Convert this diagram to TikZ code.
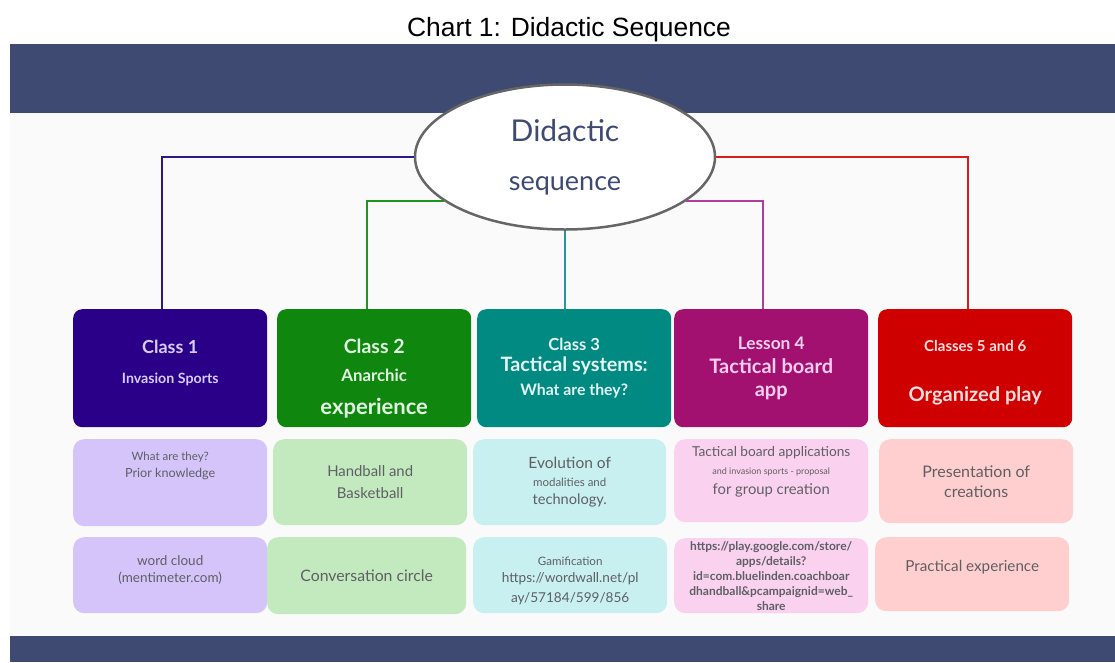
\documentclass[tikz,border=0pt]{standalone}
\usepackage{fontspec}
\setmainfont{Lato}
\newfontfamily\titlefont{Liberation Sans}
\usetikzlibrary{shapes, positioning}
\definecolor{band}{RGB}{62,74,113}
\definecolor{classone}{RGB}{42,0,136}
\definecolor{classtwo}{RGB}{15,135,15}
\definecolor{classthree}{RGB}{0,138,130}
\definecolor{classfour}{RGB}{163,17,112}
\definecolor{classfive}{RGB}{206,0,0}
\definecolor{headone}{RGB}{215,205,250}
\definecolor{headtwo}{RGB}{225,245,225}
\definecolor{headthree}{RGB}{228,246,246}
\definecolor{headfour}{RGB}{248,205,238}
\definecolor{headfive}{RGB}{255,222,222}
\definecolor{noteone}{RGB}{212,196,250}
\definecolor{notetwo}{RGB}{194,234,190}
\definecolor{notethree}{RGB}{200,240,240}
\definecolor{notefour}{RGB}{250,210,240}
\definecolor{notefive}{RGB}{255,207,207}
\definecolor{lineone}{RGB}{40,25,140}
\definecolor{linetwo}{RGB}{30,150,30}
\definecolor{linethree}{RGB}{40,150,150}
\definecolor{linefour}{RGB}{175,60,160}
\definecolor{linefive}{RGB}{214,30,30}
\definecolor{notetext}{RGB}{95,95,100}
\definecolor{seqtext}{RGB}{62,74,113}
\newcommand{\fsz}[2]{\fontsize{#1}{#2}\selectfont}
\tikzset {
  headbox/.style = {rectangle, rounded corners=9pt, anchor=north west, minimum width=194pt, minimum height=118pt, align=center, inner sep=2pt, font=\bfseries},
  notebox/.style = {rectangle, rounded corners=11pt, anchor=north west, minimum width=194pt, align=center, inner sep=2pt, text=notetext},
  link/.style = {line width=2pt},
  hub/.style = {ellipse, draw=black!60, line width=2.5pt, fill=white, minimum width=300pt, minimum height=145pt, text=seqtext, align=center}
}

\begin{document}
\begin{tikzpicture}[x=1pt, y=-1pt]
    \useasboundingbox (0,0) rectangle (1115,662);

    % page and bands
    \fill[white] (0,0) rectangle (1115,662);
    \fill[black!2] (10,113) rectangle (1115,636);
    \fill[band] (10,44) rectangle (1115,113);
    \fill[band] (10,636) rectangle (1115,662);
    \node[font=\titlefont\fsz{26.4}{30}, name=title] (title) at (569,30) {Chart 1: Didactic Sequence};

    \node[hub, name=seq] (seq) at (565,157) {\fsz{30}{34}Didactic\\[34pt]\fsz{27}{30}sequence};

    % classes
    \node[headbox, fill=classone, text=headone, name=c1] (c1) at (73,309) {\fsz{18}{20}Class 1\\[18pt]\fsz{14.2}{17}Invasion Sports\\[0pt]};
    \node[headbox, fill=classtwo, text=headtwo, name=c2] (c2) at (277,309) {\mbox{}\\[20pt]\fsz{19.5}{22}Class 2\\[14pt]\fsz{16.8}{19}Anarchic\\[16pt]\fsz{22}{25}experience};
    \node[headbox, fill=classthree, text=headthree, name=c3] (c3) at (477,309) {\fsz{16.6}{19}Class 3\\[5pt]\fsz{19.8}{22}Tactical systems:\\[8pt]\fsz{15.8}{18}What are they?};
    \node[headbox, fill=classfour, text=headfour, name=c4] (c4) at (674,309) {\fsz{17.3}{20}Lesson 4\\[8pt]\fsz{20}{22}Tactical board\\[11pt]\fsz{20}{22}app};
    \node[headbox, fill=classfive, text=headfive, name=c5] (c5) at (878,309) {\mbox{}\\[9pt]\fsz{15}{17}Classes 5 and 6\\[34pt]\fsz{20}{23}Organized play};

    % contents
    \node[notebox, fill=noteone, minimum height=87pt, name=m1] (m1) at (73,439) {\fsz{11.5}{13}What are they?\\[5pt]\fsz{12.6}{14}Prior knowledge\\[24pt]};
    \node[notebox, fill=notetwo, minimum height=86pt, name=m2] (m2) at (273,439) {\fsz{14.9}{17}Handball and\\[10pt]\fsz{14.9}{17}Basketball};
    \node[notebox, fill=notethree, minimum height=86pt, minimum width=193pt, name=m3] (m3) at (473,439) {\fsz{15.5}{17}Evolution of\\[6pt]\fsz{11.5}{13}modalities and\\[6pt]\fsz{14.6}{17}technology.};
    \node[notebox, fill=notefour, minimum height=83pt, name=m4] (m4) at (674,439) {\fsz{13.7}{15}Tactical board applications\\[6pt]\fsz{9}{11}and invasion sports - proposal\\[7pt]\fsz{14.8}{17}for group creation\\[8pt]};
    \node[notebox, fill=notefive, minimum height=84pt, name=m5] (m5) at (879,439) {\fsz{16}{18}Presentation of\\[8pt]\fsz{16}{18}creations};

    % activities
    \node[notebox, fill=noteone, minimum height=76pt, name=b1] (b1) at (73,537) {\fsz{13.5}{15}word cloud\\[5pt]\fsz{13.5}{15}(mentimeter.com)\\[1pt]};
    \node[notebox, fill=notetwo, minimum height=77pt, minimum width=199pt, name=b2] (b2) at (267,537) {\fsz{15.8}{18}Conversation circle};
    \node[notebox, fill=notethree, minimum height=76pt, name=b3] (b3) at (473,537) {\mbox{}\\[8pt]\fsz{11.6}{13}Gamification\\[5pt]\fsz{13.6}{15}https://wordwall.net/pl\\[6pt]\fsz{13.6}{15}ay/57184/599/856};
    \node[notebox, fill=notefour, minimum height=75pt, font=\bfseries\fsz{12}{13}, name=b4] (b4) at (674,538) {https://play.google.com/store/\\[2pt]apps/details?\\[2pt]id=com.bluelinden.coachboar\\[2pt]dhandball\&pcampaignid=web\_\\[2pt]share};
    \node[notebox, fill=notefive, minimum height=74pt, name=b5] (b5) at (875,537) {\fsz{15.2}{17}Practical experience\\[4pt]};

    % connectors
    \draw[link, lineone] (seq.west) -| ([xshift=-8pt]c1.north);
    \draw[link, linetwo] (seq.200) -| ([xshift=-7pt]c2.north);
    \draw[link, linethree] (seq.south) -- (seq.south |- c3.north);
    \draw[link, linefour] (seq.340) -| ([xshift=-8pt]c4.north);
    \draw[link, linefive] (seq.east) -| ([xshift=-7pt]c5.north);

\end{tikzpicture}
\end{document}
